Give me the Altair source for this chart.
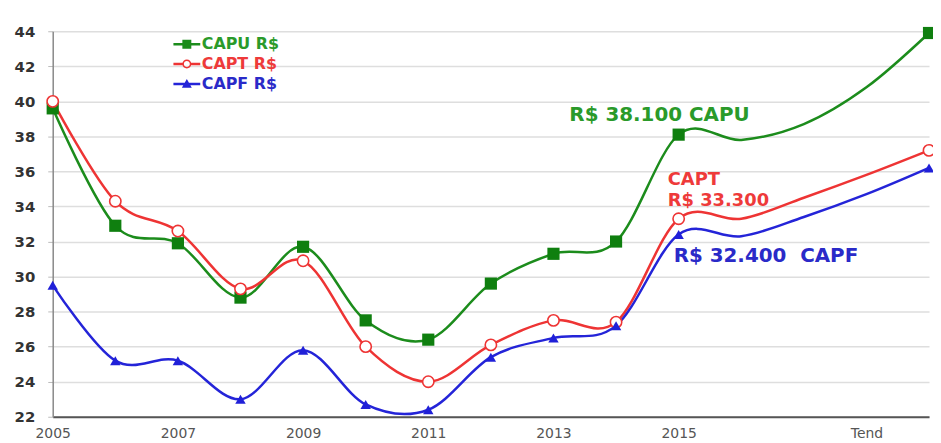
import altair as alt
import pandas as pd

# ---------------- data ----------------
years = [2005, 2006, 2007, 2008, 2009, 2010, 2011, 2012, 2013, 2014, 2015,
         2016, 2017, 2018, 2019]          # 2019 = "Tend"
has_marker = [True] * 11 + [False] * 3 + [True]

series_names = ["CAPU R$", "CAPT R$", "CAPF R$"]
capu = [39.6, 32.9, 31.9, 28.8, 31.7, 27.5, 26.4, 29.6, 31.3, 32.0, 38.1,
        37.8, 38.7, 40.8, 43.9]
capt = [40.0, 34.3, 32.6, 29.3, 30.9, 26.0, 24.0, 26.1, 27.5, 27.4, 33.3,
        33.3, 34.5, 35.8, 37.2]
capf = [29.5, 25.2, 25.2, 23.0, 25.8, 22.7, 22.4, 25.4, 26.5, 27.2, 32.4,
        32.3, 33.4, 34.7, 36.2]

x_tick_values = [2005, 2007, 2009, 2011, 2013, 2015, 2018]
x_tick_labels = ["2005", "2007", "2009", "2011", "2013", "2015", "Tend"]
y_ticks = [22, 24, 26, 28, 30, 32, 34, 36, 38, 40, 42, 44]

ann_series = ["CAPU R$", "CAPT R$", "CAPT R$", "CAPF R$"]
ann_year = [2015, 2015, 2015, 2015]
ann_text = ["R$ 38.100 CAPU", "CAPT", "R$ 33.300", "R$ 32.400\u00a0 CAPF"]

# ---------------- styles ----------------
line_colors = ["#1c8c1c", "#ee3434", "#2424d8"]
text_colors = ["#2a9a2a", "#ee3a3a", "#2a2ac8"]
ann_style = [  # (dx, dy, fontSize)
    (-110, -20, 20),
    (-11, -39, 18),
    (-11, -18, 18),
    (-5, 22, 20),
]

rows = []
for name, vals in zip(series_names, [capu, capt, capf]):
    for y, v, m in zip(years, vals, has_marker):
        rows.append({"series": name, "year": y, "value": v, "marker": m})
df = pd.DataFrame(rows)
mk = df[df["marker"]]

value_of = {(r.series, r.year): r.value for r in df.itertuples()}
ann_df = pd.DataFrame({
    "series": ann_series,
    "year": ann_year,
    "text": ann_text,
    "value": [value_of[(s, y)] for s, y in zip(ann_series, ann_year)],
})

label_expr = "''"
for v, l in reversed(list(zip(x_tick_values, x_tick_labels))):
    label_expr = f"datum.value == {v} ? '{l}' : {label_expr}"

color_expr = "'#333'"
for s, c in reversed(list(zip(series_names, text_colors))):
    color_expr = f"datum.label == '{s}' ? '{c}' : {color_expr}"

x_enc = alt.X(
    "year:Q",
    scale=alt.Scale(domain=[2005, 2019], nice=False, zero=False),
    axis=alt.Axis(
        values=x_tick_values, labelExpr=label_expr, title=None, grid=False,
        ticks=False, domainColor="#555", domainWidth=2,
        labelFont="DejaVu Sans", labelFontSize=14, labelColor="#555",
        labelPadding=10, labelOverlap=False, labelFlush=False,
    ),
)
y_enc = alt.Y(
    "value:Q",
    scale=alt.Scale(domain=[22, 44], nice=False, zero=False),
    axis=alt.Axis(
        values=y_ticks, format="d", title=None, grid=True,
        gridColor="#dedede", gridWidth=1.5, tickSize=5, tickColor="#bbb",
        domainColor="#888", domainWidth=1.5, labelFont="DejaVu Sans",
        labelFontWeight="bold", labelFontSize=15, labelColor="#333",
        labelPadding=13,
    ),
)

color_scale = alt.Scale(domain=series_names, range=line_colors)

lines = alt.Chart(df).mark_line(interpolate="cardinal", strokeWidth=2.5).encode(
    x=x_enc, y=y_enc,
    color=alt.Color("series:N", scale=color_scale, legend=None),
)

marker_styles = [
    dict(shape="square", filled=True, size=150, color="#0f7f0f", opacity=1),
    dict(shape="circle", filled=True, size=130, fill="white", stroke="#ee3434",
         strokeWidth=1.6, opacity=1),
    dict(shape="triangle-up", filled=True, size=110, color="#2020d8", opacity=1),
]
marker_layers = []
for name, st in zip(series_names, marker_styles):
    marker_layers.append(
        alt.Chart(mk).transform_filter(alt.datum.series == name)
        .mark_point(**st).encode(x=x_enc, y=y_enc)
    )

# legend symbols: line with marker (unit = 5px at size 100)
legend_paths = [
    "M-2.7,-0.25H2.7V0.25H-2.7Z M-0.9,-0.9H0.9V0.9H-0.9Z",
    "M-2.7,-0.25H-0.85V0.25H-2.7Z M0.85,-0.25H2.7V0.25H0.85Z "
    "M0.9,0A0.9,0.9 0 1,1 -0.9,0A0.9,0.9 0 1,1 0.9,0Z "
    "M0.6,0A0.6,0.6 0 1,0 -0.6,0A0.6,0.6 0 1,0 0.6,0Z",
    "M-2.7,-0.25H2.7V0.25H-2.7Z M0,-1L1,0.75L-1,0.75Z",
]
legend_def = alt.Legend(
    title=None, orient="none", legendX=127, legendY=5,
    symbolSize=100, symbolOpacity=1, symbolStrokeWidth=0,
    labelFont="DejaVu Sans", labelFontWeight="bold", labelFontSize=16,
    labelColor={"expr": color_expr}, labelOffset=7, rowPadding=4,
    padding=0, labelLimit=300,
)
legend_layer = alt.Chart(mk).mark_point(filled=True, opacity=0).encode(
    x=x_enc, y=y_enc,
    color=alt.Color("series:N", scale=color_scale, legend=legend_def),
    shape=alt.Shape("series:N",
                    scale=alt.Scale(domain=series_names, range=legend_paths),
                    legend=legend_def),
)

ann_layers = []
for i, (s, t) in enumerate(zip(ann_series, ann_text)):
    dx, dy, fs = ann_style[i]
    col = text_colors[series_names.index(s)]
    ann_layers.append(
        alt.Chart(ann_df.iloc[[i]]).mark_text(
            font="DejaVu Sans", fontWeight="bold", fontSize=fs,
            align="left", baseline="middle", dx=dx, dy=dy, color=col,
        ).encode(x=x_enc, y=y_enc, text="text:N")
    )

chart = alt.layer(lines, *marker_layers, legend_layer, *ann_layers).resolve_legend(
    color="independent", shape="independent"
).properties(
    width=882, height=388,
    autosize=alt.AutoSizeParams(type="none"),
    padding={"left": 45, "top": 22, "right": 4, "bottom": 24},
    background="white",
).configure_view(stroke=None)

chart.save("out.html", embed_options={"renderer": "svg", "actions": False})
